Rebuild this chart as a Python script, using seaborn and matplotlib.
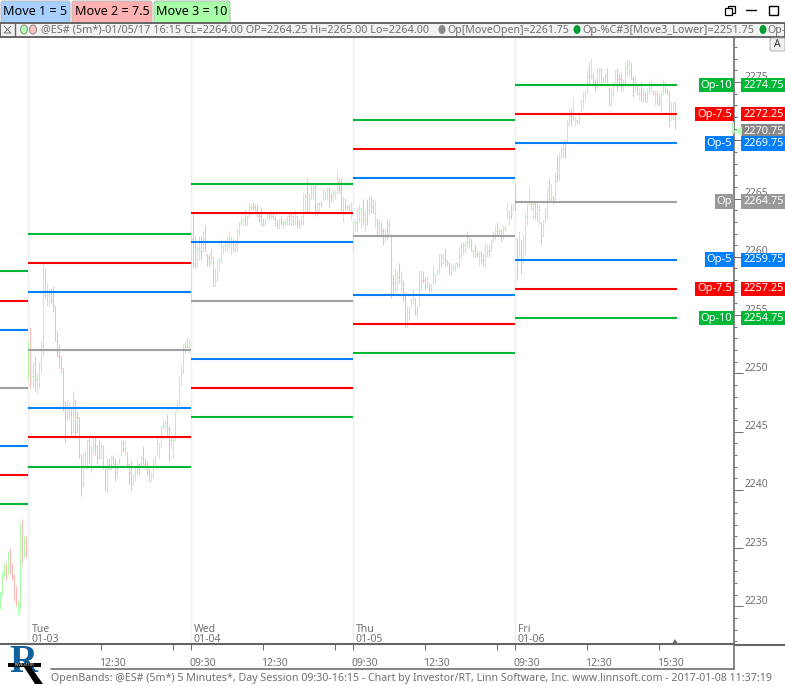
# OpenBands chart, 5 minute ES bars with open +/- move levels
import matplotlib
matplotlib.use('Agg')
import matplotlib.pyplot as plt
from matplotlib.patches import Rectangle, FancyBboxPatch, Polygon, Ellipse
from matplotlib.ticker import MultipleLocator, NullFormatter
from matplotlib.transforms import ScaledTranslation
import numpy as np
import pandas as pd
import seaborn as sns

# --- last bars of the previous session ---
mon_high = [2231.25, 2233.0, 2233.75, 2233.75, 2234.75, 2235.0, 2233.75, 2232.75, 2231.75, 2230.5, 2237.25, 2237.5, 2236.0, 2236.0]
mon_low = [2229.75, 2231.0, 2232.5, 2232.25, 2232.75, 2232.75, 2232.25, 2230.5, 2230.0, 2229.25, 2229.75, 2233.75, 2234.25, 2234.25]
mon_close = [2231.0, 2232.5, 2232.75, 2232.75, 2234.5, 2233.5, 2232.5, 2230.75, 2230.25, 2230.25, 2236.75, 2235.0, 2235.5, 2234.75]
mon_dir = 'uuududdddu' 'udud'

# --- Tue 01-03 ---
tue_high = [2252.75, 2254.0, 2251.0, 2251.5, 2250.0, 2251.0, 2252.75, 2259.5, 2259.0, 2257.75,
            2257.25, 2257.25, 2257.5, 2255.75, 2253.75, 2252.5, 2251.5, 2250.5, 2247.5, 2247.75,
            2247.5, 2247.0, 2248.5, 2247.75, 2246.75, 2246.25, 2243.0, 2243.25, 2243.5, 2244.25,
            2244.75, 2243.75, 2244.5, 2244.5, 2243.75, 2244.25, 2244.0, 2243.75, 2242.0, 2242.75,
            2242.75, 2243.0, 2243.0, 2242.75, 2242.25, 2242.75, 2244.25, 2244.25, 2244.25, 2243.25,
            2242.25, 2242.5, 2241.25, 2242.0, 2242.75, 2242.25, 2243.0, 2243.75, 2242.75, 2242.5,
            2241.75, 2241.5, 2242.75, 2243.0, 2244.5, 2244.0, 2245.5, 2246.0, 2246.0, 2246.5,
            2245.5, 2244.75, 2244.75, 2246.75, 2247.75, 2249.75, 2250.75, 2252.5, 2252.75, 2253.0, 2253.0]
tue_low = [2249.5, 2248.75, 2248.75, 2248.5, 2248.25, 2248.75, 2250.0, 2251.5, 2256.5, 2255.75,
           2255.75, 2256.0, 2255.25, 2252.75, 2251.5, 2250.5, 2250.0, 2246.75, 2244.0, 2246.0,
           2246.0, 2244.75, 2245.0, 2244.5, 2245.0, 2242.75, 2239.5, 2240.25, 2241.75, 2241.75,
           2242.25, 2241.5, 2243.0, 2243.0, 2242.25, 2242.75, 2242.75, 2241.75, 2240.0, 2239.75,
           2241.75, 2241.75, 2242.25, 2240.75, 2241.0, 2242.25, 2243.0, 2243.25, 2243.0, 2242.0,
           2240.5, 2240.0, 2240.5, 2240.75, 2241.25, 2241.25, 2242.0, 2242.25, 2241.75, 2241.25,
           2240.75, 2240.75, 2241.0, 2242.25, 2243.0, 2242.75, 2243.75, 2245.25, 2245.25, 2244.75,
           2242.5, 2243.5, 2242.75, 2244.25, 2246.75, 2247.25, 2249.0, 2250.0, 2251.75, 2252.25, 2251.75]
tue_close = [2251.0, 2249.75, 2250.75, 2249.5, 2249.5, 2251.0, 2252.25, 2258.25, 2256.75, 2256.75,
             2257.25, 2256.25, 2255.75, 2252.75, 2251.5, 2251.5, 2250.5, 2247.5, 2246.25, 2246.25,
             2247.0, 2245.0, 2247.75, 2245.0, 2246.25, 2243.0, 2240.5, 2242.75, 2242.5, 2244.25,
             2243.75, 2243.5, 2243.75, 2243.75, 2242.75, 2242.75, 2243.75, 2242.0, 2240.0, 2241.75,
             2241.75, 2242.75, 2242.25, 2241.5, 2242.25, 2242.75, 2244.0, 2243.5, 2243.5, 2242.25,
             2241.5, 2240.5, 2241.25, 2241.5, 2242.25, 2242.0, 2242.75, 2242.25, 2242.25, 2241.75,
             2240.75, 2241.25, 2242.25, 2242.75, 2244.0, 2243.75, 2245.5, 2245.5, 2245.75, 2245.25,
             2244.25, 2244.25, 2244.25, 2246.75, 2247.25, 2249.0, 2250.0, 2252.5, 2252.25, 2252.25, 2252.5]
tue_dir = ('ududuuuudu' 'uddddddddu' 'ududddduuu' 'duuddduddu' 'dudduuudud' 'dduuududdd'
           'duuuuuuuud' 'duuuuuuuud' 'u')

# --- Wed 01-04 ---
wed_high = [2262.25, 2263.75, 2261.75, 2261.0, 2261.75, 2261.75, 2262.25, 2262.75, 2260.25, 2260.25,
            2260.75, 2260.0, 2259.0, 2259.75, 2260.0, 2261.5, 2261.0, 2261.5, 2261.75, 2262.25,
            2261.75, 2261.5, 2261.5, 2262.5, 2263.0, 2263.5, 2263.25, 2264.0, 2263.5, 2264.5,
            2264.5, 2264.75, 2264.5, 2264.5, 2263.75, 2264.25, 2263.25, 2263.25, 2263.75, 2263.75,
            2264.0, 2263.75, 2263.5, 2263.25, 2263.25, 2263.5, 2263.25, 2263.25, 2263.5, 2263.75,
            2263.75, 2263.5, 2264.0, 2263.5, 2263.25, 2263.5, 2265.5, 2265.5, 2266.75, 2265.5,
            2266.25, 2266.25, 2266.25, 2264.75, 2264.75, 2264.75, 2265.75, 2265.75, 2266.0, 2266.0,
            2265.5, 2265.75, 2265.75, 2267.25, 2266.75, 2266.75, 2265.25, 2265.0, 2264.5, 2264.5, 2264.75]
wed_low = [2256.0, 2259.0, 2259.0, 2259.25, 2259.75, 2259.75, 2260.5, 2260.5, 2259.25, 2259.25,
           2259.5, 2257.5, 2257.5, 2258.0, 2258.75, 2259.5, 2260.25, 2260.5, 2260.5, 2260.75,
           2260.25, 2260.5, 2260.5, 2260.5, 2261.75, 2262.75, 2262.75, 2262.75, 2262.75, 2263.5,
           2264.0, 2264.0, 2264.0, 2263.5, 2263.0, 2262.75, 2262.75, 2262.75, 2263.25, 2263.25,
           2263.25, 2263.25, 2262.75, 2262.5, 2262.5, 2262.75, 2262.5, 2262.75, 2262.75, 2262.75,
           2262.75, 2262.75, 2262.75, 2262.5, 2262.5, 2262.75, 2262.75, 2263.75, 2263.75, 2263.75,
           2265.0, 2265.0, 2263.5, 2263.5, 2263.75, 2264.25, 2265.0, 2265.0, 2265.0, 2264.25,
           2264.75, 2264.75, 2265.0, 2265.5, 2265.5, 2264.0, 2263.0, 2264.0, 2264.0, 2264.0, 2263.25]
wed_close = [2261.5, 2259.5, 2259.25, 2260.75, 2260.5, 2260.5, 2261.5, 2260.5, 2260.0, 2259.25,
             2260.0, 2257.5, 2258.0, 2259.75, 2259.75, 2261.0, 2261.0, 2261.0, 2261.5, 2261.5,
             2261.25, 2260.5, 2260.5, 2262.25, 2263.0, 2263.25, 2263.25, 2262.75, 2263.5, 2264.25,
             2264.25, 2264.25, 2264.0, 2263.5, 2263.5, 2262.75, 2262.75, 2263.25, 2263.75, 2263.5,
             2263.5, 2263.25, 2262.75, 2262.5, 2263.25, 2263.0, 2263.0, 2263.0, 2263.5, 2263.25,
             2263.5, 2263.0, 2263.5, 2263.0, 2262.75, 2263.5, 2265.5, 2265.25, 2264.0, 2265.0,
             2265.5, 2266.0, 2263.75, 2264.5, 2264.75, 2264.5, 2265.0, 2265.75, 2265.75, 2265.25,
             2265.25, 2265.5, 2265.5, 2266.5, 2266.0, 2264.0, 2265.0, 2264.25, 2264.25, 2264.0, 2264.5]
wed_dir = ('udduududdd' 'uduuuuuuuu' 'uduuuuuduu' 'udddddduud' 'uddduduuud' 'ududduuudu' 'uuduuduuud'
           'duuuddudud' 'u')

# --- Thu 01-05 ---
thu_high = [2263.0, 2263.25, 2264.25, 2264.5, 2264.25, 2265.0, 2264.0, 2265.0, 2265.25, 2265.25,
            2265.0, 2265.0, 2263.25, 2263.25, 2263.0, 2262.5, 2262.5, 2263.25, 2263.25, 2262.0,
            2258.5, 2259.0, 2258.75, 2259.5, 2258.75, 2258.0, 2257.0, 2255.75, 2255.75, 2256.5,
            2257.25, 2256.5, 2255.75, 2258.75, 2258.75, 2258.75, 2258.25, 2258.25, 2257.75, 2257.75,
            2259.25, 2258.5, 2259.0, 2260.25, 2260.25, 2260.25, 2260.75, 2259.75, 2259.5, 2259.5,
            2259.5, 2259.5, 2259.5, 2260.75, 2261.25, 2261.25, 2261.25, 2262.25, 2261.75, 2261.5,
            2260.75, 2261.0, 2260.5, 2260.5, 2260.5, 2260.25, 2261.25, 2261.0, 2261.0, 2261.5,
            2262.25, 2262.75, 2263.0, 2262.5, 2262.5, 2262.75, 2262.75, 2264.75, 2264.0, 2264.5, 2264.5]
thu_low = [2260.5, 2262.25, 2262.25, 2263.0, 2262.5, 2262.75, 2262.25, 2262.75, 2263.5, 2263.75,
           2263.75, 2262.5, 2261.75, 2262.0, 2261.75, 2261.0, 2261.25, 2261.5, 2261.75, 2256.5,
           2256.75, 2257.0, 2257.0, 2257.75, 2257.0, 2256.25, 2254.0, 2254.0, 2254.5, 2255.75,
           2256.0, 2255.0, 2254.75, 2255.75, 2257.25, 2257.75, 2257.25, 2257.25, 2257.0, 2257.0,
           2257.75, 2257.75, 2258.5, 2258.5, 2259.25, 2259.5, 2259.25, 2259.25, 2258.5, 2258.5,
           2258.75, 2258.75, 2259.25, 2259.25, 2260.0, 2260.25, 2260.25, 2260.75, 2260.75, 2260.5,
           2260.0, 2260.0, 2260.0, 2259.25, 2259.5, 2259.25, 2259.0, 2260.0, 2260.0, 2260.5,
           2261.25, 2261.5, 2261.75, 2261.75, 2261.25, 2261.5, 2262.25, 2263.25, 2262.75, 2263.25, 2264.0]
thu_close = [2263.0, 2263.0, 2263.25, 2264.0, 2263.75, 2263.25, 2263.25, 2264.0, 2264.5, 2264.25,
             2263.75, 2263.75, 2262.75, 2262.5, 2262.25, 2261.75, 2261.75, 2262.75, 2261.75, 2257.75,
             2257.75, 2258.5, 2258.25, 2258.0, 2257.75, 2256.5, 2254.25, 2255.25, 2255.5, 2256.0,
             2256.5, 2255.25, 2255.5, 2258.75, 2258.0, 2258.0, 2257.5, 2258.25, 2257.25, 2257.5,
             2258.5, 2258.5, 2258.75, 2260.25, 2259.5, 2260.0, 2259.75, 2259.5, 2258.5, 2259.25,
             2259.0, 2259.5, 2259.25, 2260.0, 2261.0, 2261.0, 2261.25, 2261.25, 2261.5, 2260.5,
             2260.5, 2260.25, 2260.25, 2260.25, 2259.75, 2259.75, 2261.0, 2260.5, 2260.25, 2261.0,
             2262.0, 2262.25, 2262.25, 2262.25, 2261.75, 2262.5, 2262.75, 2264.5, 2263.5, 2263.75, 2264.5]
thu_dir = ('uuuuududud' 'dududdudud' 'duududduuu' 'uduuuddudu' 'uuuududddu' 'uuduuuuuud' 'uddudduudu'
           'uududuuuud' 'u')

# --- Fri 01-06 ---
fri_high = [2266.25, 2261.5, 2262.25, 2261.5, 2262.0, 2263.75, 2264.5, 2266.0, 2264.75, 2264.75,
            2264.75, 2264.75, 2264.5, 2263.0, 2263.25, 2264.25, 2266.0, 2266.75, 2266.25, 2265.25,
            2267.25, 2268.75, 2269.0, 2269.5, 2270.0, 2270.0, 2271.75, 2272.75, 2272.75, 2273.75,
            2272.0, 2271.75, 2272.5, 2273.5, 2274.25, 2274.25, 2276.25, 2276.75, 2277.0, 2275.75,
            2275.25, 2276.25, 2276.25, 2276.25, 2275.5, 2275.75, 2276.25, 2274.5, 2274.5, 2275.0,
            2276.0, 2276.25, 2275.75, 2275.75, 2275.25, 2276.75, 2277.0, 2277.0, 2276.75, 2275.5,
            2275.5, 2274.75, 2274.5, 2275.0, 2274.5, 2274.25, 2274.5, 2275.0, 2275.25, 2274.25,
            2274.25, 2274.25, 2274.0, 2274.25, 2275.25, 2275.0, 2274.5, 2274.25, 2273.25, 2273.25, 2273.25]
fri_low = [2264.0, 2258.0, 2260.0, 2258.5, 2259.5, 2260.25, 2262.75, 2264.5, 2264.0, 2263.25,
           2263.25, 2263.0, 2262.75, 2261.0, 2261.75, 2263.0, 2263.25, 2264.75, 2264.75, 2264.5,
           2264.75, 2266.5, 2266.5, 2268.5, 2268.5, 2268.5, 2269.75, 2271.25, 2271.25, 2271.75,
           2271.25, 2271.5, 2271.5, 2272.5, 2272.75, 2273.5, 2274.0, 2274.75, 2275.25, 2274.75,
           2274.25, 2274.5, 2275.0, 2275.0, 2275.0, 2275.0, 2275.0, 2273.0, 2273.0, 2273.75,
           2275.0, 2274.25, 2274.75, 2274.25, 2274.25, 2274.75, 2275.5, 2275.5, 2275.25, 2273.75,
           2274.25, 2274.0, 2273.5, 2273.25, 2273.25, 2273.25, 2273.25, 2274.0, 2274.25, 2274.0,
           2273.0, 2273.0, 2273.0, 2272.5, 2274.0, 2274.0, 2274.0, 2271.25, 2271.75, 2271.75, 2271.0]
fri_close = [2265.0, 2258.75, 2260.25, 2260.0, 2260.25, 2263.5, 2264.5, 2265.25, 2264.5, 2264.5,
             2263.75, 2264.0, 2263.0, 2261.75, 2262.5, 2264.0, 2265.75, 2265.0, 2265.5, 2265.0,
             2266.5, 2267.0, 2268.5, 2269.25, 2269.25, 2268.75, 2271.5, 2272.25, 2271.5, 2272.0,
             2271.75, 2271.5, 2272.0, 2273.5, 2274.0, 2274.25, 2275.5, 2275.5, 2275.5, 2275.0,
             2275.0, 2276.25, 2276.0, 2275.0, 2275.25, 2275.5, 2275.0, 2273.0, 2274.0, 2275.0,
             2276.0, 2275.25, 2275.25, 2275.0, 2275.0, 2276.25, 2276.5, 2276.0, 2275.25, 2274.0,
             2275.0, 2274.0, 2274.0, 2273.5, 2274.0, 2273.25, 2274.25, 2274.5, 2274.75, 2274.0,
             2274.0, 2273.0, 2273.25, 2274.0, 2275.0, 2274.25, 2274.0, 2271.25, 2272.0, 2273.25, 2271.25]
fri_dir = ('dduduuuudu' 'duuduuudud' 'uduuuduudu' 'uduuuuudud' 'duuduudduu' 'uddduuuudd' 'udududuuud'
           'udduuudduu' 'd')

day_labels = ['Tue', 'Wed', 'Thu', 'Fri']
day_dates = ['01-03', '01-04', '01-05', '01-06']
time_ticks = [36, 72, 81, 117, 153, 162, 198, 234, 243, 279, 315]
time_labels = ['12:30', '', '09:30', '12:30', '', '09:30', '12:30', '', '09:30', '12:30', '15:30']
price_labels = [2230, 2235, 2240, 2245, 2250, 2255, 2260, 2265, 2270, 2275]

# band levels per session (Mon, Tue, Wed, Thu, Fri)
session_start = [-14.25, 0, 81, 162, 243]
session_end = [0, 81, 162, 243, 324]
op_open = [2248.75, 2252.0, 2256.25, 2261.75, 2264.75]
op_p5 = [2253.75, 2257.0, 2261.25, 2266.75, 2269.75]
op_p75 = [2256.25, 2259.5, 2263.75, 2269.25, 2272.25]
op_p10 = [2258.75, 2262.0, 2266.25, 2271.75, 2274.75]
op_m5 = [2243.75, 2247.0, 2251.25, 2256.75, 2259.75]
op_m75 = [2241.25, 2244.5, 2248.75, 2254.25, 2257.25]
op_m10 = [2238.75, 2242.0, 2246.25, 2251.75, 2254.75]

left_tags = ['Op-10', 'Op-7.5', 'Op-5', 'Op', 'Op-5', 'Op-7.5', 'Op-10']
right_prices = [2274.75, 2272.25, 2269.75, 2264.75, 2259.75, 2257.25, 2254.75]
last_price = 2270.75

GREEN, RED, BLUE, GRAY = '#00b835', '#ff0000', '#0080ff', '#a0a0a0'
TXT = '#707070'

sns.set_theme(style='white')
plt.rcParams['font.family'] = ['Noto Sans', 'DejaVu Sans']

fig = plt.figure(figsize=(7.85, 6.86), dpi=100, facecolor='white')
ax = fig.add_axes([0, 42 / 686, 734 / 785, 607 / 686])

# bars
bars = pd.DataFrame({'high': mon_high + tue_high + wed_high + thu_high + fri_high,
                     'low': mon_low + tue_low + wed_low + thu_low + fri_low,
                     'close': mon_close + tue_close + wed_close + thu_close + fri_close,
                     'dir': list(mon_dir + tue_dir + wed_dir + thu_dir + fri_dir)})
bars['bar'] = np.arange(len(bars)) - 14
bars['open'] = bars['close'].shift(1).clip(lower=bars['low'], upper=bars['high']).fillna(bars['close'])
bars['color'] = bars['dir'].map({'u': '#a8ffa8', 'd': '#ffb8b8'})

ax.vlines(bars['bar'], bars['low'], bars['high'], colors=bars['color'], lw=0.72, zorder=2)
ax.hlines(bars['close'], bars['bar'], bars['bar'] + 0.5, colors=bars['color'], lw=0.72, zorder=2)
ax.hlines(bars['open'], bars['bar'] - 0.5, bars['bar'], colors=bars['color'], lw=0.72, zorder=2)

# band levels, one segment per session
rows = []
for kind, levels in [('p10', op_p10), ('p75', op_p75), ('p5', op_p5), ('open', op_open),
                     ('m5', op_m5), ('m75', op_m75), ('m10', op_m10)]:
    for s, level in enumerate(levels):
        rows.append({'kind': kind, 'seg': f'{kind}{s}', 'bar': session_start[s], 'level': level})
        rows.append({'kind': kind, 'seg': f'{kind}{s}', 'bar': session_end[s], 'level': level})
bands = pd.DataFrame(rows)
palette = {'p10': GREEN, 'p75': RED, 'p5': BLUE, 'open': GRAY, 'm5': BLUE, 'm75': RED, 'm10': GREEN}
sns.lineplot(data=bands, x='bar', y='level', hue='kind', units='seg', estimator=None, palette=palette,
             legend=False, lw=1.5, ax=ax, zorder=3, solid_capstyle='butt')

# axes
ax.set_xlim(-14.25, 352.75)
ax.set_ylim(2226.77, 2278.87)
ax.set_xlabel('')
ax.set_ylabel('')
for x in [0, 81, 162, 243]:
    ax.axvline(x, color='#eeeeee', lw=1, zorder=1)
for name in ['top', 'left']:
    ax.spines[name].set_visible(False)
ax.spines['right'].set_color(TXT)
ax.spines['right'].set_linewidth(1.2)
ax.spines['bottom'].set_color('#666666')
ax.spines['bottom'].set_linewidth(1.5)

ax.yaxis.tick_right()
ax.yaxis.set_major_locator(MultipleLocator(5))
ax.yaxis.set_minor_locator(MultipleLocator(1))
ax.yaxis.set_major_formatter(NullFormatter())
ax.tick_params(axis='y', which='major', length=6.5, width=0.75, color=TXT)
ax.tick_params(axis='y', which='minor', length=2.5, width=0.75, color=TXT)

# price numbers sit just above their ticks
for price in price_labels:
    ax.annotate(str(price), (1, price), xycoords=ax.get_yaxis_transform(), xytext=(7.8, 3.6),
                textcoords='offset points', fontsize=7.5, color=TXT, va='center', annotation_clip=False, zorder=2.5)

ax.set_xticks(time_ticks)
ax.set_xticklabels(time_labels, ha='left')
ax.tick_params(axis='x', length=4.5, width=0.75, color=TXT, labelcolor=TXT, labelsize=7.5, pad=5.5, bottom=True)
shift = ScaledTranslation(-1.5 / 100, 0, fig.dpi_scale_trans)
for lab in ax.get_xticklabels():
    lab.set_transform(lab.get_transform() + shift)

# day names above the time strip
for x, name, date in zip([0, 81, 162, 243], day_labels, day_dates):
    ax.annotate(name, (x, 0), xycoords=('data', 'axes fraction'), xytext=(2.2, 6.7), textcoords='offset points',
                fontsize=7.5, color=TXT, va='bottom')
    ax.annotate(date, (x, 0), xycoords=('data', 'axes fraction'), xytext=(2.2, -0.8), textcoords='offset points',
                fontsize=7.5, color=TXT, va='bottom')

# price tags for the last session
tag_colors = [GREEN, RED, BLUE, '#999999', BLUE, RED, GREEN]
ytrans = ax.get_yaxis_transform()
for tag, price, col in zip(left_tags, right_prices, tag_colors):
    ax.text(732 / 734, price, tag, transform=ytrans, ha='right', va='center', color='white', fontsize=8,
            bbox=dict(fc=col, ec='none', pad=1.3), zorder=6, clip_on=False)
    ax.text(743 / 734, price, f'{price:.2f}', transform=ytrans, ha='left', va='center', color='white', fontsize=7.9,
            bbox=dict(fc=col, ec='none', pad=1.3), zorder=6, clip_on=False)
ax.text(743 / 734, last_price, f'{last_price:.2f}', transform=ytrans, ha='left', va='center', color='white',
        fontsize=7.9, bbox=dict(fc='#888888', ec='none', pad=1.3), zorder=5, clip_on=False)

# window chrome drawn in pixels on top
ui = fig.add_axes([0, 0, 1, 1], zorder=10)
ui.set_xlim(0, 785)
ui.set_ylim(686, 0)
ui.axis('off')
ui.patch.set_alpha(0)

# current price marker
ui.add_patch(Polygon([(742, 126), (742, 136), (735, 131)], fc='#b4ffb4', ec='none'))
ui.plot([733, 733], [123, 133], color='#b4ffb4', lw=1.5)
ui.plot([731, 735], [131, 131], color='#b4ffb4', lw=1)

# legend buttons
for x0, x1, col, txt in [(1, 70, '#a8d0ff', 'Move 1 = 5'), (72, 152, '#ffb0b0', 'Move 2 = 7.5'),
                         (154, 230, '#a8ffa8', 'Move 3 = 10')]:
    ui.add_patch(FancyBboxPatch((x0 + 2, 3), x1 - x0 - 4, 18, boxstyle='round,pad=2', fc=col, ec='#b8b8b8', lw=0.7))
    ui.text((x0 + x1) / 2, 11.5, txt, ha='center', va='center', fontsize=9.1, color='black')

# header strip
ui.add_patch(Rectangle((0, 23), 785, 13.5, fc='#f2f2f2', ec='#666666', lw=1.4))
ui.plot([14.5, 14.5], [23, 36], color='#666666', lw=1)
ui.plot([4, 11, 4, 11], [26, 33, 33, 26], color='#666666', lw=0.6)
ui.add_patch(Ellipse((24, 29.5), 7, 9, fc='#b4ffb4', ec='#888888', lw=0.7))
ui.add_patch(Ellipse((33, 29.5), 7, 9, fc='#ffc4c4', ec='#888888', lw=0.7))
ui.text(41, 30, '@ES# (5m*)-01/05/17 16:15 CL=2264.00 OP=2264.25 Hi=2265.00 Lo=2264.00', fontsize=7.85, color=TXT,
        va='center')
ui.add_patch(Ellipse((442, 29.5), 7, 9, fc='#888888', ec='none'))
ui.text(447, 30, 'Op[MoveOpen]=2261.75', fontsize=7.6, color=TXT, va='center')
ui.add_patch(Ellipse((577, 29.5), 7, 9, fc='#00a030', ec='none'))
ui.text(582, 30, 'Op-%C#3[Move3_Lower]=2251.75', fontsize=7.85, color=TXT, va='center')
ui.add_patch(Ellipse((763, 29.5), 7, 9, fc='#00a030', ec='none'))
ui.text(767, 30, 'Op-', fontsize=7.6, color=TXT, va='center')

# window buttons
ui.add_patch(Rectangle((728, 6), 7, 7, fc='white', ec='black', lw=0.9, zorder=1))
ui.add_patch(Rectangle((725, 8), 7, 7, fc='white', ec='black', lw=0.9, zorder=2))
ui.plot([746, 756], [10, 10], color='black', lw=1)
ui.add_patch(Rectangle((768.5, 5.5), 9, 9, fc='white', ec='black', lw=1))

# auto scale button
ui.add_patch(FancyBboxPatch((772, 40), 11, 9, boxstyle='round,pad=2', fc='#f0f0f0', ec='#b0b0b0', lw=0.7))
ui.text(777, 44.5, 'A', ha='center', va='center', fontsize=7.5, fontweight='bold', color='#333333')

# bottom strip
ui.plot([734, 785], [644.5, 644.5], color='#666666', lw=1.5)
ui.plot([734, 734], [644, 669], color=TXT, lw=1.2)
ui.plot([51, 734], [669, 669], color=TXT, lw=1.2)
ui.add_patch(Polygon([(672, 644), (678, 644), (675, 639)], fc='#666666', ec='none'))
ui.text(51, 679, 'OpenBands: @ES# (5m*) 5 Minutes*, Day Session 09:30-16:15 - Chart by Investor/RT, Linn Software, Inc. '
        'www.linnsoft.com - 2017-01-08 11:37:19', fontsize=7.65, color=TXT, va='center')

# logo
ui.text(23, 662, 'R', fontsize=28, fontweight='bold', family='Liberation Serif', color='#10609c', ha='center',
        va='center')
ui.add_patch(Polygon([(24, 667), (31, 667), (43, 684), (35, 684)], fc='black', ec='none', zorder=4))
ui.add_patch(Rectangle((8, 662.5), 33, 4.5, fc='black', ec='none', zorder=4))
ui.text(24.5, 664.8, 'INVESTOR', fontsize=3, color='white', ha='center', va='center', zorder=5)

fig.savefig('out.png', dpi=100)
